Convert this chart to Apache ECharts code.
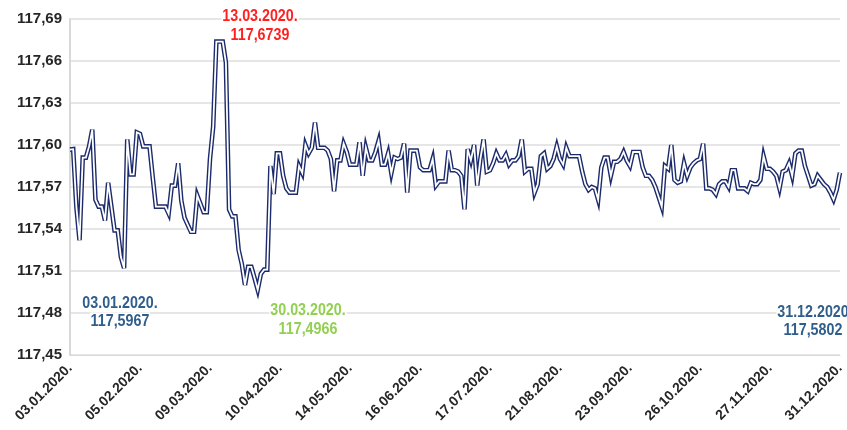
<!DOCTYPE html>
<html>
<head>
<meta charset="utf-8">
<script src="https://cdn.jsdelivr.net/npm/echarts@6/dist/echarts.min.js"></script>
<style>
html,body{margin:0;padding:0;background:#fff;}
#c{width:847px;height:430px;}
</style>
</head>
<body>
<div id="c"></div>
<script>
const values = [
117.5967,117.597,117.556,117.532,117.591,117.591,117.599,117.611,117.561,117.556,
117.556,117.546,117.573,117.556,117.539,117.539,117.520,117.512,117.604,117.579,
117.579,117.609,117.608,117.599,117.599,117.599,117.577,117.556,117.556,117.556,
117.556,117.551,117.571,117.571,117.587,117.560,117.548,117.543,117.538,117.538,
117.564,117.558,117.552,117.552,117.590,117.613,117.6739,117.6739,117.6739,117.659,
117.554,117.549,117.549,117.525,117.515,117.500,117.513,117.513,117.505,117.4966,
117.508,117.511,117.511,117.585,117.565,117.594,117.594,117.578,117.569,117.566,
117.566,117.566,117.585,117.580,117.600,117.594,117.598,117.616,117.598,117.598,
117.598,117.596,117.590,117.567,117.589,117.589,117.601,117.595,117.586,117.586,
117.586,117.602,117.578,117.598,117.589,117.589,117.595,117.603,117.586,117.586,
117.594,117.580,117.591,117.590,117.591,117.601,117.566,117.596,117.596,117.596,
117.584,117.582,117.582,117.582,117.590,117.571,117.574,117.574,117.574,117.596,
117.582,117.582,117.581,117.578,117.554,117.597,117.589,117.600,117.571,117.590,
117.604,117.581,117.582,117.587,117.594,117.589,117.589,117.593,117.586,117.589,
117.589,117.592,117.604,117.581,117.583,117.583,117.566,117.572,117.592,117.594,
117.583,117.585,117.590,117.599,117.590,117.586,117.598,117.592,117.592,117.592,
117.592,117.581,117.572,117.568,117.570,117.569,117.561,117.584,117.591,117.591,
117.578,117.588,117.588,117.590,117.595,117.589,117.585,117.595,117.595,117.595,
117.584,117.578,117.578,117.575,117.570,117.563,117.556,117.585,117.583,117.600,
117.575,117.573,117.574,117.587,117.578,117.584,117.587,117.589,117.590,117.601,
117.569,117.569,117.568,117.565,117.572,117.574,117.574,117.570,117.582,117.582,
117.569,117.569,117.569,117.567,117.573,117.572,117.572,117.575,117.592,117.583,
117.583,117.581,117.578,117.569,117.581,117.582,117.587,117.578,117.594,117.596,
117.596,117.585,117.578,117.571,117.572,117.578,117.575,117.572,117.570,117.566,
117.561,117.568,117.5802
];
const tickLabels = ['03.01.2020.','05.02.2020.','09.03.2020.','10.04.2020.','14.05.2020.','16.06.2020.',
  '17.07.2020.','21.08.2020.','23.09.2020.','26.10.2020.','27.11.2020.','31.12.2020.'];
const labelStep = 22;
const yTicks = {min:117.45, max:117.69, interval:0.03};
const noteTexts = [
  ['13.03.2020.','117,6739'],
  ['03.01.2020.','117,5967'],
  ['30.03.2020.','117,4966'],
  ['31.12.2020','117,5802']
];
const noteColors = ['#ff1f1f','#2f5d8c','#92d050','#2f5d8c'];
const categories = values.map((_, i) => i % labelStep === 0 ? tickLabels[i / labelStep] : '');

const FONT = "'Liberation Sans',Arial,sans-serif";
const chart = echarts.init(document.getElementById('c'));
const notePos = [[260,16,35],[120,303,321],[308,310,329],[813,312,330]];
const graphics = [];
noteTexts.forEach((lines, k) => {
  const [cx, y1, y2] = notePos[k];
  [y1, y2].forEach((yy, j) => {
    graphics.push({
      type:'text', x:cx, y:yy, scaleX:0.84, silent:true, z:100,
      style:{text:lines[j], fill:noteColors[k], font:"bold 17px " + FONT,
        textAlign:'center', textVerticalAlign:'middle',
        backgroundColor:'#ffffff', padding:[0,1,0,1]}
    });
  });
});
chart.setOption({
  animation:false,
  grid:{left:70, right:6, top:19, bottom:75},
  xAxis:{
    type:'category', data:categories, boundaryGap:false,
    axisLine:{show:true, lineStyle:{color:'#d9d9d9', width:1}},
    axisTick:{show:false},
    axisLabel:{interval:labelStep-1, rotate:45, margin:11, color:'#262626',
      fontFamily:FONT, fontWeight:'bold', fontSize:14},
    splitLine:{show:false}
  },
  yAxis:{
    type:'value', min:yTicks.min, max:yTicks.max, interval:yTicks.interval,
    axisLine:{show:true, lineStyle:{color:'#d9d9d9', width:2}},
    axisTick:{show:false},
    axisLabel:{margin:8, color:'#262626', fontFamily:FONT, fontWeight:'bold', fontSize:15,
      formatter:v => v.toFixed(2).replace('.', ',')},
    splitLine:{lineStyle:{color:'#e6e6e6', width:2}}
  },
  series:[
    {type:'line', data:values, symbol:'none', silent:true,
      lineStyle:{color:'#1c2b6b', width:4.6, join:'miter', miterLimit:6}},
    {type:'line', data:values, symbol:'none', silent:true,
      lineStyle:{color:'#ffffff', width:1.8, join:'miter', miterLimit:6}}
  ],
  graphic:graphics
});
</script>
</body>
</html>
